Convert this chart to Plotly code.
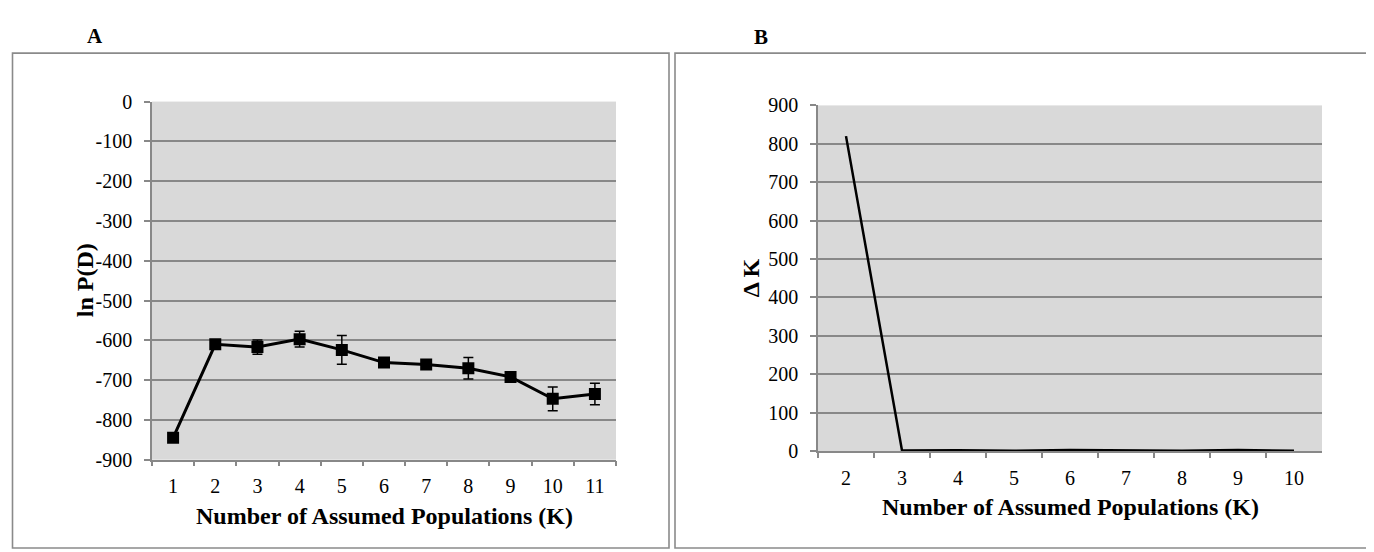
import plotly.graph_objects as go

# ---------------- data ----------------
k_a = ["1", "2", "3", "4", "5", "6", "7", "8", "9", "10", "11"]
lnpd = [-845, -610, -617, -597, -624, -656, -661, -670, -692, -747, -735]
lnpd_sd = [2, 4, 18, 20, 36, 4, 4, 27, 4, 30, 27]

k_b = ["2", "3", "4", "5", "6", "7", "8", "9", "10"]
delta_k = [820, 1.5, 2.0, 0.5, 3.0, 1.0, 0.5, 2.5, 1.0]

ya_vals = [0, -100, -200, -300, -400, -500, -600, -700, -800, -900]
ya_text = ["0", "-100", "-200", "-300", "-400", "-500", "-600", "-700", "-800", "-900"]
yb_vals = [0, 100, 200, 300, 400, 500, 600, 700, 800, 900]
yb_text = ["0", "100", "200", "300", "400", "500", "600", "700", "800", "900"]

panel_a_label = "A"
panel_b_label = "B"
xtitle = "Number of Assumed Populations (K)"
ytitle_a = "ln P(D)"
ytitle_b = "Δ K"

# ---------------- layout helpers ----------------
W, H = 1374, 552
FONT = "Liberation Serif, Times New Roman, serif"
GRID = "#888888"
AXIS = "#888888"


def px(x):
    return x / W


def py(y):
    return 1 - y / H


fig = go.Figure()

fig.add_trace(go.Scatter(
    x=k_a, y=lnpd, mode="lines+markers",
    line=dict(color="black", width=3),
    marker=dict(symbol="square", size=12, color="black"),
    error_y=dict(type="data", array=lnpd_sd, visible=True,
                 color="black", thickness=1.5, width=5),
    xaxis="x", yaxis="y", showlegend=False, hoverinfo="x+y",
))

fig.add_trace(go.Scatter(
    x=k_b, y=delta_k, mode="lines",
    line=dict(color="black", width=2.5),
    xaxis="x2", yaxis="y2", showlegend=False,
))

common_x = dict(
    type="category", tickson="boundaries", ticks="outside", ticklen=5,
    tickcolor=AXIS, tickwidth=1.5, showline=True, linecolor=AXIS, linewidth=1.5,
    showgrid=False, zeroline=False,
    tickfont=dict(family=FONT, size=20, color="black"),
    ticklabelstandoff=8,
)
common_y = dict(
    ticks="outside", ticklen=6, tickcolor=AXIS, tickwidth=1.5,
    showline=True, linecolor=AXIS, linewidth=1.5,
    showgrid=True, gridcolor=GRID, gridwidth=1.5, zeroline=False,
    tickfont=dict(family=FONT, size=20, color="black"),
    ticklabelstandoff=8,
)

fig.update_layout(
    width=W, height=H,
    margin=dict(l=0, r=0, t=0, b=0, pad=0),
    paper_bgcolor="white",
    plot_bgcolor="#d9d9d9",
    font=dict(family=FONT, color="black"),
    xaxis=dict(domain=[px(144), px(608)], anchor="y",
               range=[-0.5, len(k_a) - 0.5], **common_x),
    yaxis=dict(domain=[py(459), py(86)], anchor="x", range=[-900, 0],
               tickvals=ya_vals, ticktext=ya_text, **common_y),
    xaxis2=dict(domain=[px(810), px(1314)], anchor="y2",
                range=[-0.5, len(k_b) - 0.5], **common_x),
    yaxis2=dict(domain=[py(450), py(90)], anchor="x2", range=[0, 900],
                tickvals=yb_vals, ticktext=yb_text, **common_y),
    shapes=[
        dict(type="rect", xref="paper", yref="paper",
             x0=px(4.5), x1=px(661), y0=py(551), y1=py(35.5),
             line=dict(color="#8a8a8a", width=1.6), layer="below"),
        dict(type="rect", xref="paper", yref="paper",
             x0=px(667), x1=px(1372.5), y0=py(551), y1=py(35.5),
             line=dict(color="#8a8a8a", width=1.6), layer="below"),
    ],
    annotations=[
        dict(text=f"<b>{panel_a_label}</b>", x=px(87), y=py(18), xref="paper", yref="paper",
             showarrow=False, font=dict(family=FONT, size=21, color="black"),
             xanchor="center", yanchor="middle"),
        dict(text=f"<b>{panel_b_label}</b>", x=px(753), y=py(19), xref="paper", yref="paper",
             showarrow=False, font=dict(family=FONT, size=21, color="black"),
             xanchor="center", yanchor="middle"),
        dict(text=f"<b>{xtitle}</b>", x=px(376), y=py(518), xref="paper", yref="paper",
             showarrow=False, font=dict(family=FONT, size=24, color="black"),
             xanchor="center", yanchor="middle"),
        dict(text=f"<b>{xtitle}</b>", x=px(1062), y=py(508), xref="paper", yref="paper",
             showarrow=False, font=dict(family=FONT, size=24, color="black"),
             xanchor="center", yanchor="middle"),
        dict(text=f"<b>{ytitle_a}</b>", x=px(77), y=py(272), xref="paper", yref="paper",
             showarrow=False, textangle=-90, font=dict(family=FONT, size=24, color="black"),
             xanchor="center", yanchor="middle"),
        dict(text=f"<b>{ytitle_b}</b>", x=px(743), y=py(270), xref="paper", yref="paper",
             showarrow=False, textangle=-90, font=dict(family=FONT, size=24, color="black"),
             xanchor="center", yanchor="middle"),
    ],
)

fig.write_html("out.html")
